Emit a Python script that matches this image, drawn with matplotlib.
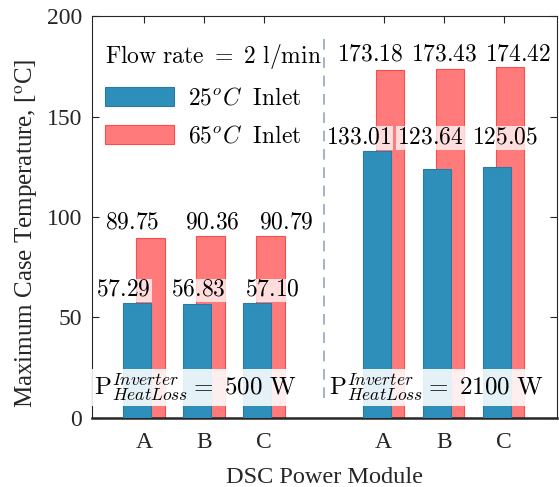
import matplotlib
matplotlib.use('Agg')
import matplotlib.pyplot as plt
from matplotlib.patches import Patch
import numpy as np

# data
modules = ['A', 'B', 'C', 'A', 'B', 'C']
module_pos = [1, 2, 3, 5, 6, 7]
inlet_25 = [57.29, 56.83, 57.10, 133.01, 123.64, 125.05]
inlet_65 = [89.75, 90.36, 90.79, 173.18, 173.43, 174.42]
heat_loss = [500, 2100]
yticks = [0, 50, 100, 150, 200]

plt.rcParams['font.family'] = ['Liberation Serif', 'DejaVu Serif']
plt.rcParams['mathtext.fontset'] = 'stix'

blue, blue_edge = '#2e8fba', '#2a7aa2'
red, red_edge = '#ff7b7b', '#ff4a4a'

fig = plt.figure(figsize=(5.59, 4.87), dpi=100)
ax = fig.add_axes([0.1646, 0.1417, 0.8318, 0.8254])

x = np.array(module_pos, dtype=float)
off, w = 0.11, 0.47
ax.bar(x + off, inlet_65, w, color=red, edgecolor=red_edge, lw=0.8, zorder=2)
ax.bar(x - off, inlet_25, w, color=blue, edgecolor=blue_edge, lw=0.8, zorder=3)

# separator between the two load cases
ax.plot([4, 4], [10, 190], ls=(0, (7, 5)), color='#8c9dbb', lw=1.1, zorder=1)

# value labels (placed by hand in the original, offsets from bar slots)
box = dict(boxstyle='square,pad=0.05', fc='white', ec='none', alpha=0.75)
dx_25 = [-0.34, -0.09, 0.15, -0.42, -0.22, 0.02]
dx_65 = [-0.20, 0.14, 0.37, -0.225, 0.017, 0.25]
for g in range(2):
    idx = range(3 * g, 3 * g + 3)
    y25 = max(inlet_25[i] for i in idx) + 3.5
    y65 = max(inlet_65[i] for i in idx) + 3.5
    for i in idx:
        ax.text(x[i] + dx_25[i], y25, '$%.2f$' % inlet_25[i], ha='center',
                va='baseline', fontsize=17, math_fontfamily='cm',
                bbox=box, zorder=5)
        ax.text(x[i] + dx_65[i], y65, '$%.2f$' % inlet_65[i], ha='center',
                va='baseline', fontsize=17, math_fontfamily='cm',
                bbox=box, zorder=5)

pbox = dict(boxstyle='square,pad=0.1', fc='white', ec='none', alpha=0.88)
for cx, q in zip([1.86, 5.87], heat_loss):
    ax.text(cx, 11.4,
            r'$\mathrm{P}_{HeatLoss}^{Inverter}=\ %d\ \mathrm{W}$' % q,
            ha='center', va='baseline', fontsize=18, math_fontfamily='cm',
            bbox=pbox, zorder=5)

handles = [Patch(fc=blue, ec=blue_edge, lw=0.8),
           Patch(fc=red, ec=red_edge, lw=0.8)]
leg = ax.legend(handles, [r'$25^oC\ \ \mathrm{Inlet}$', r'$65^oC\ \ \mathrm{Inlet}$'],
                title=r'$\mathrm{Flow\ rate}\ =\ 2\ \mathrm{l/min}$',
                loc='upper left', bbox_to_anchor=(-0.022, 0.995), frameon=False,
                fontsize=17, title_fontsize=17, handlelength=2.9,
                handleheight=0.85, labelspacing=0.68, handletextpad=0.6,
                alignment='left', borderaxespad=0.6)
leg.get_title().set_math_fontfamily('cm')
for t in leg.get_texts():
    t.set_math_fontfamily('cm')

ax.set_xlim(0.133, 7.89)
ax.set_ylim(0, 200)
ax.set_xticks(module_pos)
ax.set_xticklabels(modules)
ax.set_yticks(yticks)
ax.tick_params(direction='in', top=True, right=True, length=5, width=0.8,
               labelsize=17, colors='#262626')
ax.tick_params(axis='y', pad=7)
ax.tick_params(axis='x', pad=10)
for s in ax.spines.values():
    s.set_color('#262626')
    s.set_linewidth(0.8)
ax.spines['bottom'].set_linewidth(1.8)

ax.set_xlabel('DSC Power Module', fontsize=17.5, color='#262626', labelpad=10)
ax.set_ylabel(r'Maximum Case Temperature, [$^{\mathrm{o}}$C]', fontsize=18,
              color='#262626', labelpad=5)
ax.yaxis.label.set_y(0.46)

fig.savefig('out.png', dpi=100)
